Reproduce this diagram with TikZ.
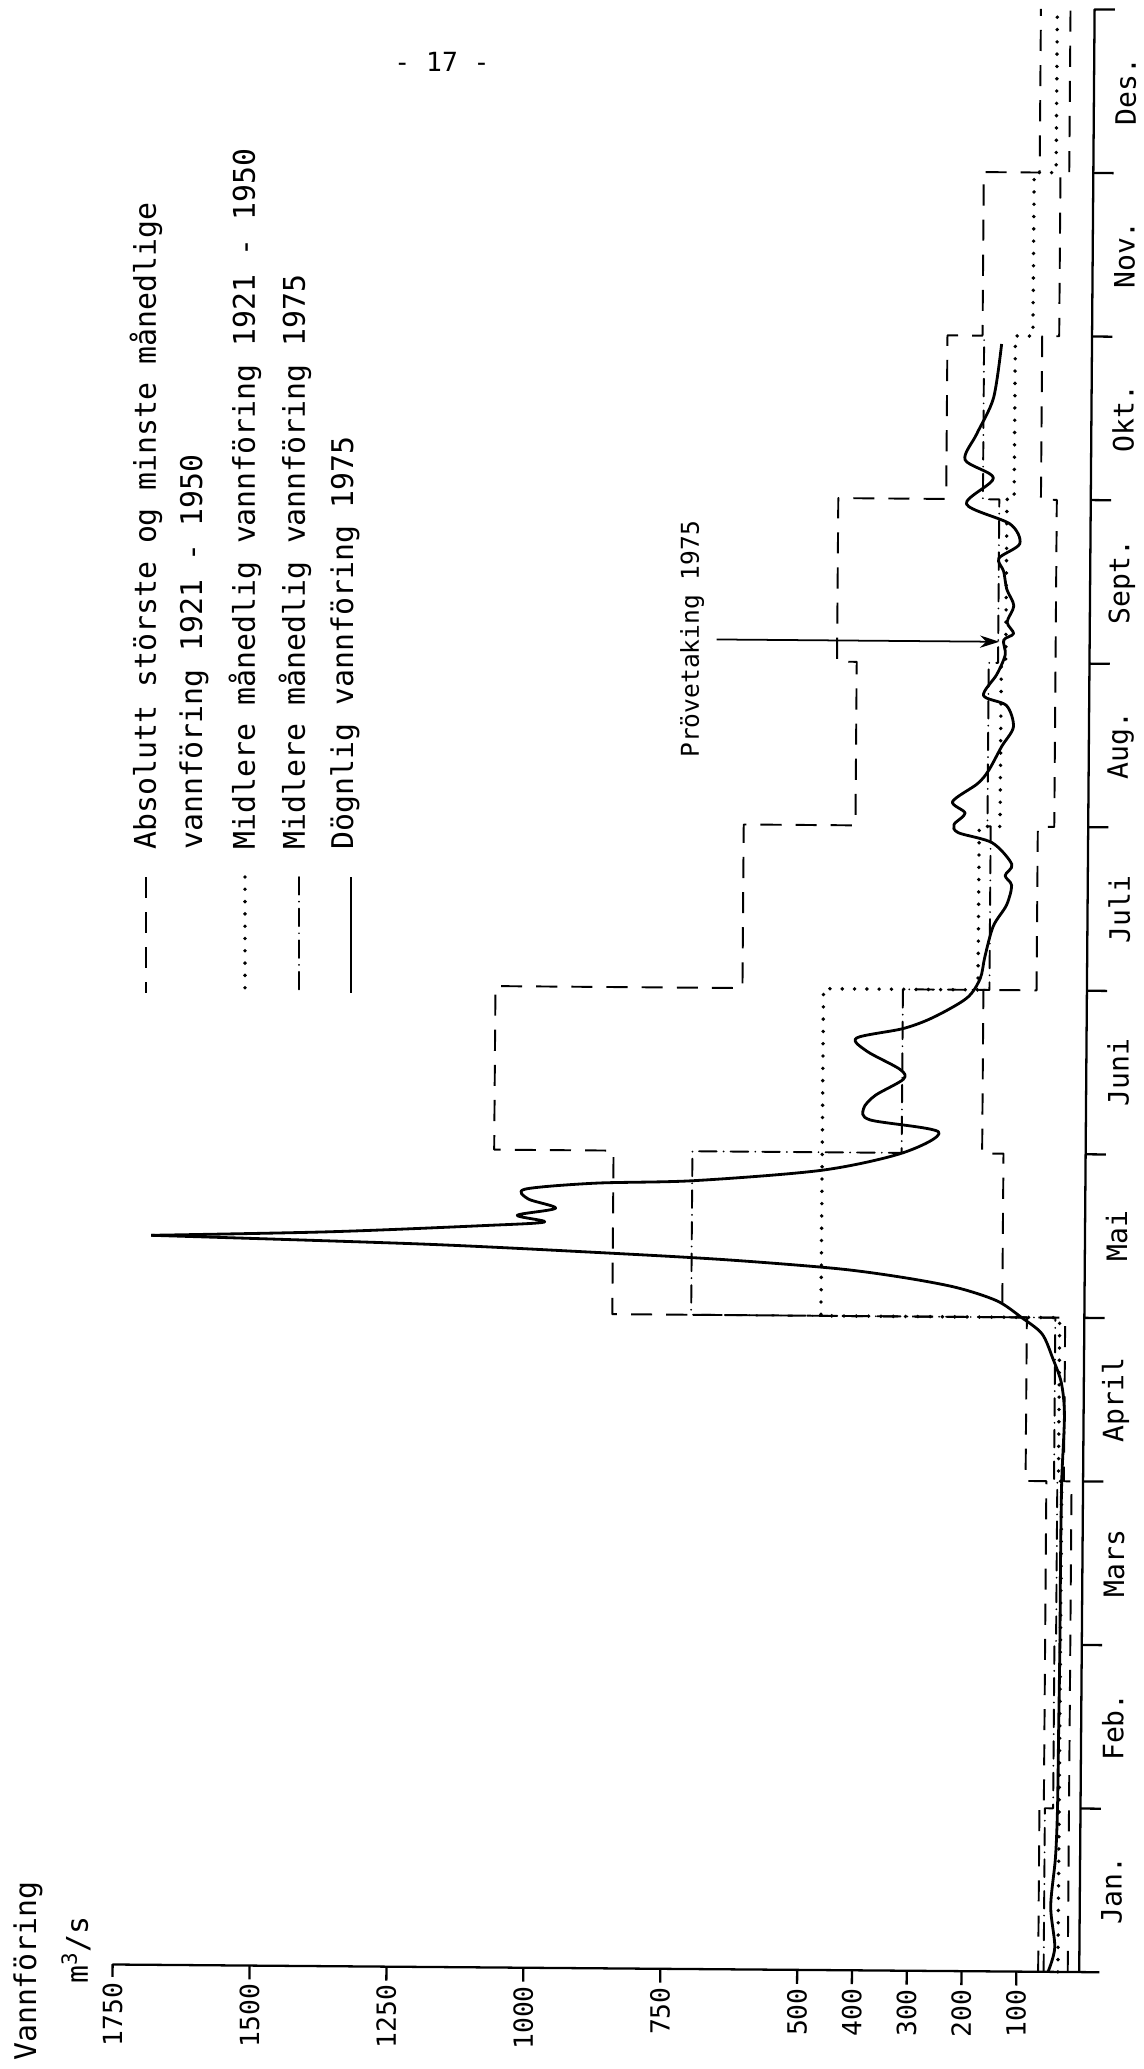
\documentclass[tikz,border=0pt]{standalone}
\usepackage{fontspec}
\newfontfamily\typefont{DejaVu Sans Mono}
\usetikzlibrary{arrows.meta}

\begin{document}
\begin{tikzpicture}[x = 0.02cm, y = -0.02cm, line join = round, font = \typefont,
  axis/.style = {line width = 1.3pt},
  maxmin/.style = {line width = 1.1pt, dash pattern = on 12pt off 8pt},
  meanold/.style = {line width = 2.2pt, line cap = round, dash pattern = on 0pt off 7pt},
  meanyear/.style = {line width = 1.1pt, line cap = round, dash pattern = on 10pt off 4pt on 0pt off 4pt},
  daily/.style = {line width = 1.6pt},
  pointer/.style = {line width = 1pt, -{Stealth[length = 11pt, width = 7pt]}, shorten <= 6pt},
  legendtext/.style = {rotate = 90, anchor = west, inner sep = 0pt, font = \typefont\fontsize{17}{20}\selectfont},
  qlabel/.style = {rotate = 90, anchor = east, inner sep = 1pt, font = \typefont\fontsize{15}{18}\selectfont},
  mlabel/.style = {rotate = 90, inner sep = 0pt, font = \typefont\fontsize{16}{19}\selectfont},
  notelabel/.style = {rotate = 90, inner sep = 1pt, font = \typefont\fontsize{14}{17}\selectfont}]
\useasboundingbox (0, 0) rectangle (1143, 2069);

% Page number
\node[font = \typefont\fontsize{15}{18}\selectfont] (pagenr) at (442, 62) {- 17 -};

% Legend
\draw[maxmin](146, 877) -- (146, 993);
\draw[meanold](245, 877) -- (245, 993);
\draw[meanyear](299, 877) -- (299, 993);
\draw[daily](351, 877) -- (351, 993);
\node[legendtext] (legmaxmin) at (146, 850) {Absolutt störste og minste månedlige};
\node[legendtext] (legmaxmintwo) at (194, 850) {vannföring 1921 - 1950};
\node[legendtext] (legmeanold) at (245, 850) {Midlere månedlig vannföring 1921 - 1950};
\node[legendtext] (legmeanyear) at (295, 850) {Midlere månedlig vannföring 1975};
\node[legendtext] (legdaily) at (345, 850) {Dögnlig vannföring 1975};

% Axis title
\node[legendtext, anchor = center] (qtitle) at (28, 1971) {Vannföring};
\node[legendtext, anchor = center] (qunit) at (76, 1950) {m\textsuperscript{3}/s};

\begin{scope}[shift = {(1071, 1972)}, rotate = -0.45, x = {(0cm, 3.272cm)}, y = {(-0.01095cm, 0cm)}]
% Axes
\draw[axis](0, -52) -- (0, 1750) -- (-0.075, 1750);
\draw[axis](0, -15) -- (12, -15) -- (12, -52);
% Month ticks
\draw[axis](1, -15) -- (1, -52);
\draw[axis](2, -15) -- (2, -52);
\draw[axis](3, -15) -- (3, -52);
\draw[axis](4, -15) -- (4, -52);
\draw[axis](5, -15) -- (5, -52);
\draw[axis](6, -15) -- (6, -52);
\draw[axis](7, -15) -- (7, -52);
\draw[axis](8, -15) -- (8, -52);
\draw[axis](9, -15) -- (9, -52);
\draw[axis](10, -15) -- (10, -52);
\draw[axis](11, -15) -- (11, -52);
% Discharge ticks
\draw[axis](0, 1500) -- (-0.085, 1500);
\draw[axis](0, 1250) -- (-0.085, 1250);
\draw[axis](0, 1000) -- (-0.085, 1000);
\draw[axis](0, 750) -- (-0.085, 750);
\draw[axis](0, 500) -- (-0.085, 500);
\draw[axis](0, 400) -- (-0.085, 400);
\draw[axis](0, 300) -- (-0.085, 300);
\draw[axis](0, 200) -- (-0.085, 200);
\draw[axis](0, 100) -- (-0.085, 100);
% Discharge labels
\node[qlabel] (qa) at (-0.1, 1750) {1750};
\node[qlabel] (qb) at (-0.1, 1500) {1500};
\node[qlabel] (qc) at (-0.1, 1250) {1250};
\node[qlabel] (qd) at (-0.1, 1000) {1000};
\node[qlabel] (qe) at (-0.1, 750) {750};
\node[qlabel] (qf) at (-0.1, 500) {500};
\node[qlabel] (qg) at (-0.1, 400) {400};
\node[qlabel] (qh) at (-0.1, 300) {300};
\node[qlabel] (qi) at (-0.1, 200) {200};
\node[qlabel] (qj) at (-0.1, 100) {100};
% Month labels
\node[mlabel] (jan) at (0.5, -73) {Jan.};
\node[mlabel] (feb) at (1.5, -73) {Feb.};
\node[mlabel] (mar) at (2.5, -73) {Mars};
\node[mlabel] (apr) at (3.5, -73) {April};
\node[mlabel] (mai) at (4.5, -73) {Mai};
\node[mlabel] (jun) at (5.5, -73) {Juni};
\node[mlabel] (jul) at (6.5, -73) {Juli};
\node[mlabel] (aug) at (7.5, -73) {Aug.};
\node[mlabel] (sep) at (8.5, -73) {Sept.};
\node[mlabel] (okt) at (9.5, -73) {Okt.};
\node[mlabel] (nov) at (10.5, -73) {Nov.};
\node[mlabel] (des) at (11.5, -73) {Des.};

% Largest and smallest monthly flow 1921-1950
\draw[maxmin](0, 60) -- (1, 60) -- (1, 52) -- (3, 52) -- (3, 90) -- (4, 90) -- (4, 847) -- (5, 847)
  -- (5, 1065) -- (6, 1065) -- (6, 614) -- (7, 614) -- (7, 410) -- (8, 410) -- (8, 446) -- (9, 446)
  -- (9, 249) -- (10, 249) -- (10, 185) -- (11, 185) -- (11, 83) -- (12, 83);
\draw[maxmin](0, 6) -- (3, 6) -- (3, 20) -- (4, 20) -- (4, 135) -- (5, 135) -- (5, 174) -- (6, 174)
  -- (6, 77) -- (7, 77) -- (7, 47) -- (9, 47) -- (9, 76) -- (10, 76) -- (10, 45) -- (11, 45)
  -- (11, 29) -- (12, 29);
% Mean monthly flow 1921-1950
\draw[meanold](0, 24) -- (3, 24) -- (3, 30) -- (4, 30) -- (4, 466) -- (6, 466) -- (6, 184) -- (7, 184)
  -- (7, 146) -- (8, 146) -- (8, 138) -- (9, 138) -- (9, 125) -- (10, 125) -- (10, 93) -- (11, 93)
  -- (11, 53) -- (12, 53);
% Mean monthly flow 1975
\draw[meanyear](0, 50) -- (1, 50) -- (1, 35) -- (2, 35) -- (2, 32) -- (3, 32) -- (3, 38) -- (4, 38)
  -- (4, 703) -- (5, 703) -- (5, 321) -- (6, 321) -- (6, 163) -- (7, 163) -- (7, 169) -- (8, 169)
  -- (8, 152) -- (9, 152) -- (9, 182) -- (10, 182);
% Daily flow 1975
\draw[daily] plot[smooth, tension = 0.5] coordinates {(0, 42) (0.15, 30) (0.4, 38) (0.7, 30) (1, 27)
  (1.5, 26) (2, 25) (2.5, 25) (3, 24) (3.4, 20) (3.6, 26) (3.75, 42) (3.9, 62) (4, 100) (4.1, 145)
  (4.18, 220) (4.24, 320) (4.29, 440) (4.34, 650) (4.38, 900) (4.42, 1200) (4.46, 1690)};
\draw[daily] plot[smooth, tension = 0.5] coordinates {(4.46, 1690) (4.49, 1365) (4.535, 1085)
  (4.56, 972) (4.6, 1022) (4.645, 952) (4.7, 1002) (4.76, 1008) (4.8, 880) (4.82, 700) (4.89, 466)
  (5, 319) (5.13, 254) (5.2, 379) (5.27, 391) (5.35, 370) (5.45, 319) (5.51, 325) (5.62, 386)
  (5.7, 405) (5.76, 320) (5.83, 265) (5.95, 204) (6.07, 180) (6.2, 172) (6.39, 157) (6.52, 133)
  (6.64, 124) (6.7, 136) (6.77, 124) (6.9, 160) (6.96, 222) (7.01, 230) (7.08, 210) (7.15, 233)
  (7.26, 188) (7.34, 168) (7.49, 144) (7.61, 123) (7.74, 136) (7.8, 178) (7.93, 154) (8.05, 139)
  (8.14, 142) (8.18, 124) (8.25, 136) (8.35, 124) (8.45, 137) (8.56, 143) (8.64, 152) (8.73, 114)
  (8.85, 132) (8.97, 212) (9.13, 163) (9.24, 215) (9.4, 194) (9.62, 164) (9.95, 150)};

% Sampling date
\coordinate (probe) at (8.13, 150);
\node[notelabel] (prove) at (8.13, 711) {Prövetaking 1975};
\draw[pointer](prove.south) -- (probe);
\end{scope}
\end{tikzpicture}
\end{document}
